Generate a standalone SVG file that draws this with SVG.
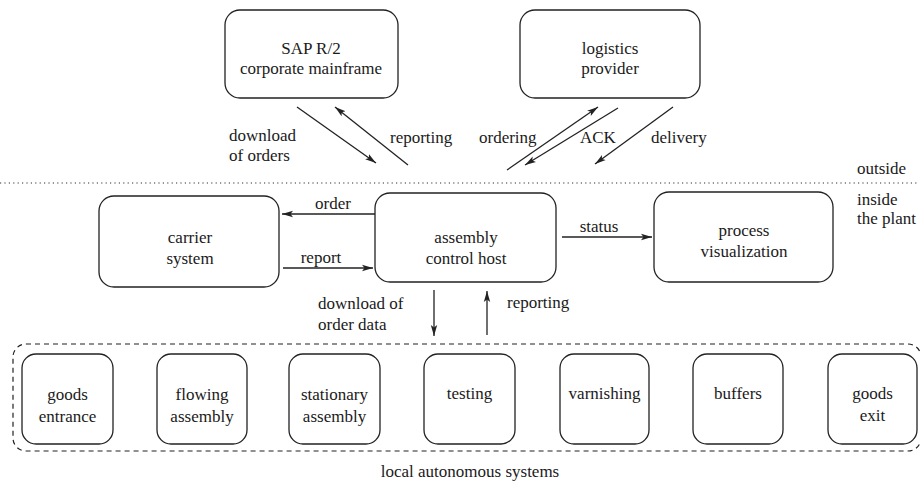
<svg xmlns="http://www.w3.org/2000/svg" width="920" height="483" viewBox="0 0 920 483">
<style>
  .box { fill: #ffffff; stroke: #222; stroke-width: 1.3; }
  .t { font-family: 'Liberation Serif', 'DejaVu Serif', serif; font-size: 17px; fill: #1a1a1a; }
  .c { text-anchor: middle; }
  .arr { stroke: #222; stroke-width: 1.3; fill: none; marker-end: url(#ah); }
</style>
<defs>
  <marker id="ah" markerUnits="userSpaceOnUse" markerWidth="12" markerHeight="8" refX="11" refY="4" orient="auto">
    <path d="M0,0.8 L11,4 L0,7.2 L2.5,4 z" fill="#222"/>
  </marker>
</defs>
<rect width="920" height="483" fill="#ffffff"/>

<!-- separators / container -->
<line x1="0" y1="183" x2="918" y2="183" stroke="#333" stroke-width="1.2" stroke-dasharray="1.2,3.2"/>
<rect x="13" y="344" width="908" height="107" rx="13" fill="none" stroke="#222" stroke-width="1.2" stroke-dasharray="5,4"/>

<g id="sap">
  <rect class="box" x="225" y="10" width="173" height="88" rx="15"/>
  <text class="t c" x="311" y="54" font-family="Liberation Serif, serif">SAP R/2</text>
  <text class="t c" x="311" y="74" font-family="Liberation Serif, serif">corporate mainframe</text>
</g>
<g id="logistics">
  <rect class="box" x="520" y="10" width="180" height="88" rx="15"/>
  <text class="t c" x="610" y="54">logistics</text>
  <text class="t c" x="610" y="74">provider</text>
</g>
<g id="carrier">
  <rect class="box" x="99" y="196" width="180" height="91" rx="15"/>
  <text class="t c" x="190" y="243">carrier</text>
  <text class="t c" x="190" y="264">system</text>
</g>
<g id="host">
  <rect class="box" x="375" y="193" width="181" height="89" rx="15"/>
  <text class="t c" x="466" y="243">assembly</text>
  <text class="t c" x="466" y="264">control host</text>
</g>
<g id="visualization">
  <rect class="box" x="654" y="192" width="179" height="90" rx="15"/>
  <text class="t c" x="744" y="236">process</text>
  <text class="t c" x="744" y="257">visualization</text>
</g>

<g id="goods-entrance">
  <rect class="box" x="22" y="354" width="91" height="90" rx="14"/>
  <text class="t c" x="67.5" y="400">goods</text>
  <text class="t c" x="67.5" y="422">entrance</text>
</g>
<g id="flowing-assembly">
  <rect class="box" x="157" y="354" width="90" height="90" rx="14"/>
  <text class="t c" x="202" y="400">flowing</text>
  <text class="t c" x="202" y="422">assembly</text>
</g>
<g id="stationary-assembly">
  <rect class="box" x="289" y="354" width="91" height="90" rx="14"/>
  <text class="t c" x="334.5" y="400">stationary</text>
  <text class="t c" x="334.5" y="422">assembly</text>
</g>
<g id="testing">
  <rect class="box" x="424" y="354" width="91" height="90" rx="14"/>
  <text class="t c" x="469.5" y="399">testing</text>
</g>
<g id="varnishing">
  <rect class="box" x="560" y="354" width="89" height="90" rx="14"/>
  <text class="t c" x="604.5" y="399">varnishing</text>
</g>
<g id="buffers">
  <rect class="box" x="693" y="354" width="90" height="90" rx="14"/>
  <text class="t c" x="738" y="399">buffers</text>
</g>
<g id="goods-exit">
  <rect class="box" x="828" y="354" width="89" height="90" rx="14"/>
  <text class="t c" x="872.5" y="399">goods</text>
  <text class="t c" x="872.5" y="421">exit</text>
</g>

<g id="connectors">
  <line class="arr" x1="297" y1="107" x2="376" y2="163"/>
  <line class="arr" x1="408" y1="165" x2="335" y2="107"/>
  <line class="arr" x1="507" y1="170" x2="598" y2="107"/>
  <line class="arr" x1="618" y1="108" x2="525" y2="165"/>
  <line class="arr" x1="673" y1="107" x2="595" y2="164"/>
  <line class="arr" x1="375" y1="214" x2="282" y2="214"/>
  <line class="arr" x1="283" y1="268" x2="373" y2="268"/>
  <line class="arr" x1="562" y1="237" x2="652" y2="237"/>
  <line class="arr" x1="434" y1="290" x2="434" y2="336"/>
  <line class="arr" x1="487" y1="335" x2="487" y2="291"/>
</g>

<g id="labels">
  <text class="t" x="229" y="141">download</text>
  <text class="t" x="229" y="161">of orders</text>
  <text class="t" x="390" y="143">reporting</text>
  <text class="t" x="479" y="143">ordering</text>
  <text class="t" x="580" y="143">ACK</text>
  <text class="t" x="651" y="143">delivery</text>
  <text class="t" x="857" y="174">outside</text>
  <text class="t" x="857" y="205">inside</text>
  <text class="t" x="857" y="224">the plant</text>
  <text class="t c" x="333" y="209">order</text>
  <text class="t c" x="321" y="263">report</text>
  <text class="t c" x="599" y="232">status</text>
  <text class="t" x="318" y="309">download of</text>
  <text class="t" x="318" y="330">order data</text>
  <text class="t" x="507" y="308">reporting</text>
  <text class="t c" x="470" y="477">local autonomous systems</text>
</g>
</svg>
